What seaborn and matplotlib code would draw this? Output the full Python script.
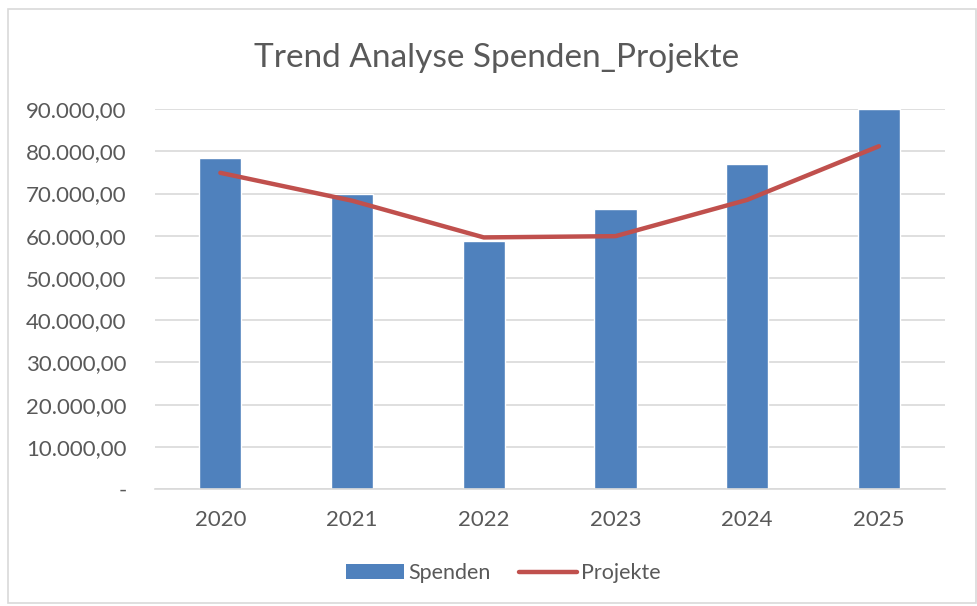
import numpy as np
import pandas as pd
import seaborn as sns
import matplotlib.pyplot as plt
from matplotlib.ticker import FuncFormatter
from matplotlib.patches import Rectangle
from matplotlib.lines import Line2D
from matplotlib.patches import Patch

# Daten
jahre = ['2020', '2021', '2022', '2023', '2024', '2025']
spenden = [78400, 69800, 58800, 66400, 77000, 90000]
projekte = [74900, 68300, 59600, 59900, 68500, 81200]

df = pd.DataFrame({'Jahr': jahre, 'Spenden': spenden, 'Projekte': projekte})

sns.set_theme(style="white")
plt.rcParams['font.family'] = ['Lato', 'DejaVu Sans']

blau = '#4F81BD'
rot = '#C0504D'
grau = '#595959'

fig = plt.figure(figsize=(9.78, 6.06), dpi=100)
ax = fig.add_axes([0.158, 0.193, 0.808, 0.627])

# Balken
sns.barplot(data=df, x='Jahr', y='Spenden', color=blau, width=0.32,
            saturation=1, ax=ax, zorder=2)
# Linie
sns.lineplot(x=np.arange(len(jahre)), y=df['Projekte'], color=rot,
             linewidth=3.2, ax=ax, zorder=3, solid_capstyle='round')

ax.set_ylim(0, 90000)
ax.set_xlim(-0.5, len(jahre) - 0.5)
ax.set_yticks(np.arange(0, 90001, 10000))


def de_format(v, pos):
    if v == 0:
        return '-'
    s = f"{v:,.2f}"
    return s.replace(',', 'X').replace('.', ',').replace('X', '.')


ax.yaxis.set_major_formatter(FuncFormatter(de_format))
ax.grid(axis='y', color='#D9D9D9', linewidth=1.2, zorder=0)
ax.set_axisbelow(True)
for s in ['top', 'right', 'left']:
    ax.spines[s].set_visible(False)
ax.spines['bottom'].set_color('#D9D9D9')
ax.spines['bottom'].set_linewidth(1.2)
ax.tick_params(axis='both', length=0, labelsize=16, colors=grau)
ax.tick_params(axis='y', pad=20)
ax.tick_params(axis='x', pad=15)
ax.set_xlabel('')
ax.set_ylabel('')

fig.text(0.508, 0.905, 'Trend Analyse Spenden_Projekte', ha='center', va='center',
         fontsize=24, color=grau)

handles = [Patch(facecolor=blau, edgecolor='none'),
           Line2D([0], [0], color=rot, linewidth=3.2, solid_capstyle='round')]
fig.legend(handles, ['Spenden', 'Projekte'], loc='center', bbox_to_anchor=(0.515, 0.054),
           ncol=2, frameon=False, fontsize=15.5, labelcolor=grau, handlelength=2.7,
           handletextpad=0.2, columnspacing=1.3)

# Rahmen
fig.patches.append(Rectangle((0.008, 0.005), 0.99, 0.98, transform=fig.transFigure,
                             fill=False, edgecolor='#D9D9D9', linewidth=1.2))

plt.savefig('out.png', dpi=100)
